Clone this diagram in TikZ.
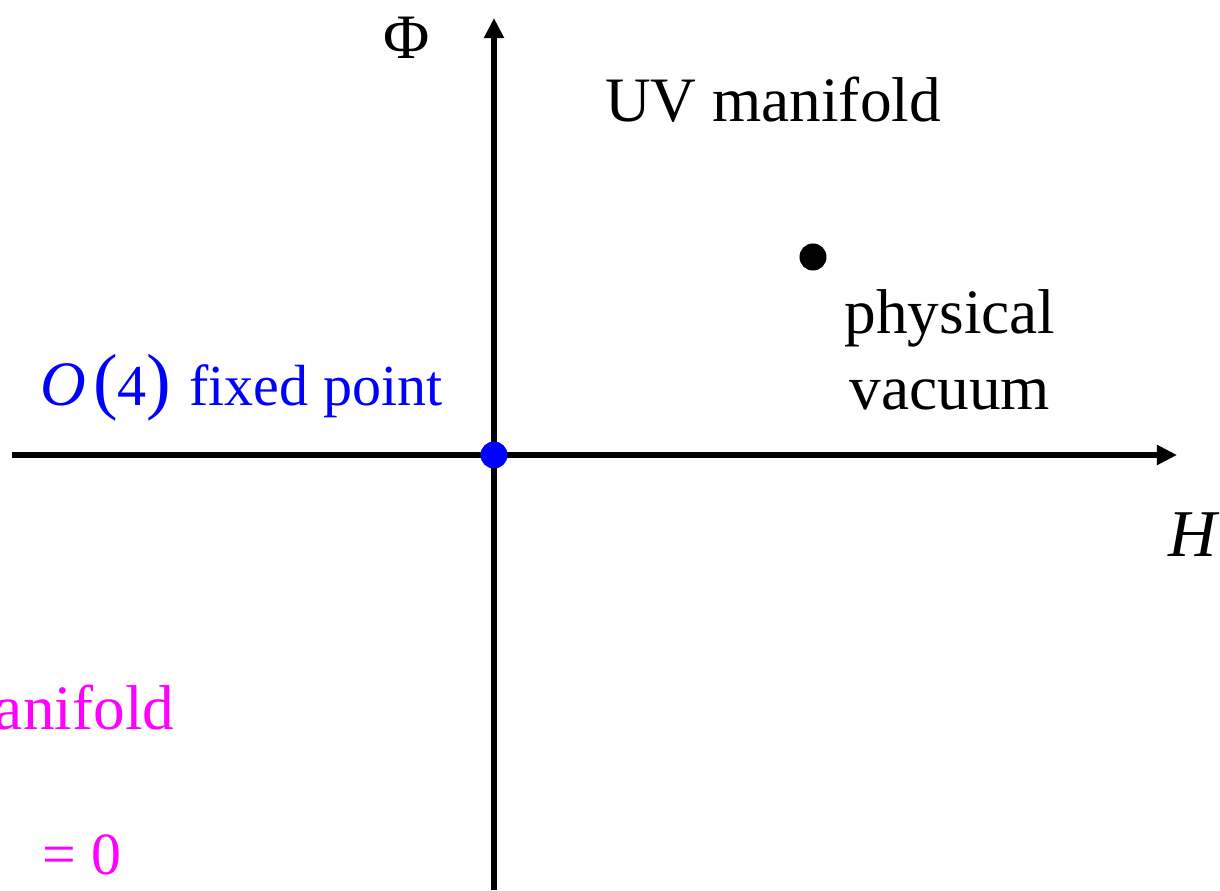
\documentclass[tikz,border=0pt]{standalone}
\usepackage{fontspec}
\setmainfont{Liberation Serif}
\usetikzlibrary{arrows.meta}
\definecolor{irpink}{RGB}{255,0,255}

\begin{document}
\begin{tikzpicture}[x=0.01cm,y=0.01cm,
  axis/.style={line width=1.5pt,-{Triangle[length=0.2cm,width=0.19cm]}},
  lbl/.style={font=\fontsize{18}{21.5}\selectfont},
  dot/.style={circle,inner sep=0pt,minimum size=0.27cm}]
\useasboundingbox (0,0) rectangle (1220,890);
% axes
\coordinate (hleft) at (12,435);
\coordinate (hright) at (1177,435);
\coordinate (vbot) at (494,0);
\coordinate (vtop) at (494,872);
\draw[axis] (hleft) -- (hright);
\draw[axis] (vbot) -- (vtop);
% points
\node[dot,fill=blue] (fixpt) at (494,435) {};
\node[dot,fill=black] (vac) at (813,633) {};
% labels
\node[lbl] (philab) at (407,852) {Φ};
\node[lbl,font=\fontsize{19}{22}\selectfont\itshape] (hlab) at (1193,355) {H};
\node[lbl] (uv) at (773,790) {UV manifold};
\node[lbl,align=center] (phys) at (950,540) {physical\\vacuum};
\node[lbl,text=blue,font=\fontsize{16.5}{20}\selectfont,anchor=west] (o4) at (28,502)
  {{\fontsize{18}{18}\selectfont\itshape O}\kern2pt{\fontsize{21}{21}\selectfont(}4{\fontsize{21}{21}\selectfont)}\kern1pt{} fixed point};
\node[lbl,text=irpink,anchor=east,inner sep=0pt] (irman) at (175,182) {anifold};
\node[lbl,text=irpink,anchor=east,inner sep=0pt,font=\fontsize{17}{20}\selectfont] (zero) at (122,35) {= 0};
\end{tikzpicture}
\end{document}
